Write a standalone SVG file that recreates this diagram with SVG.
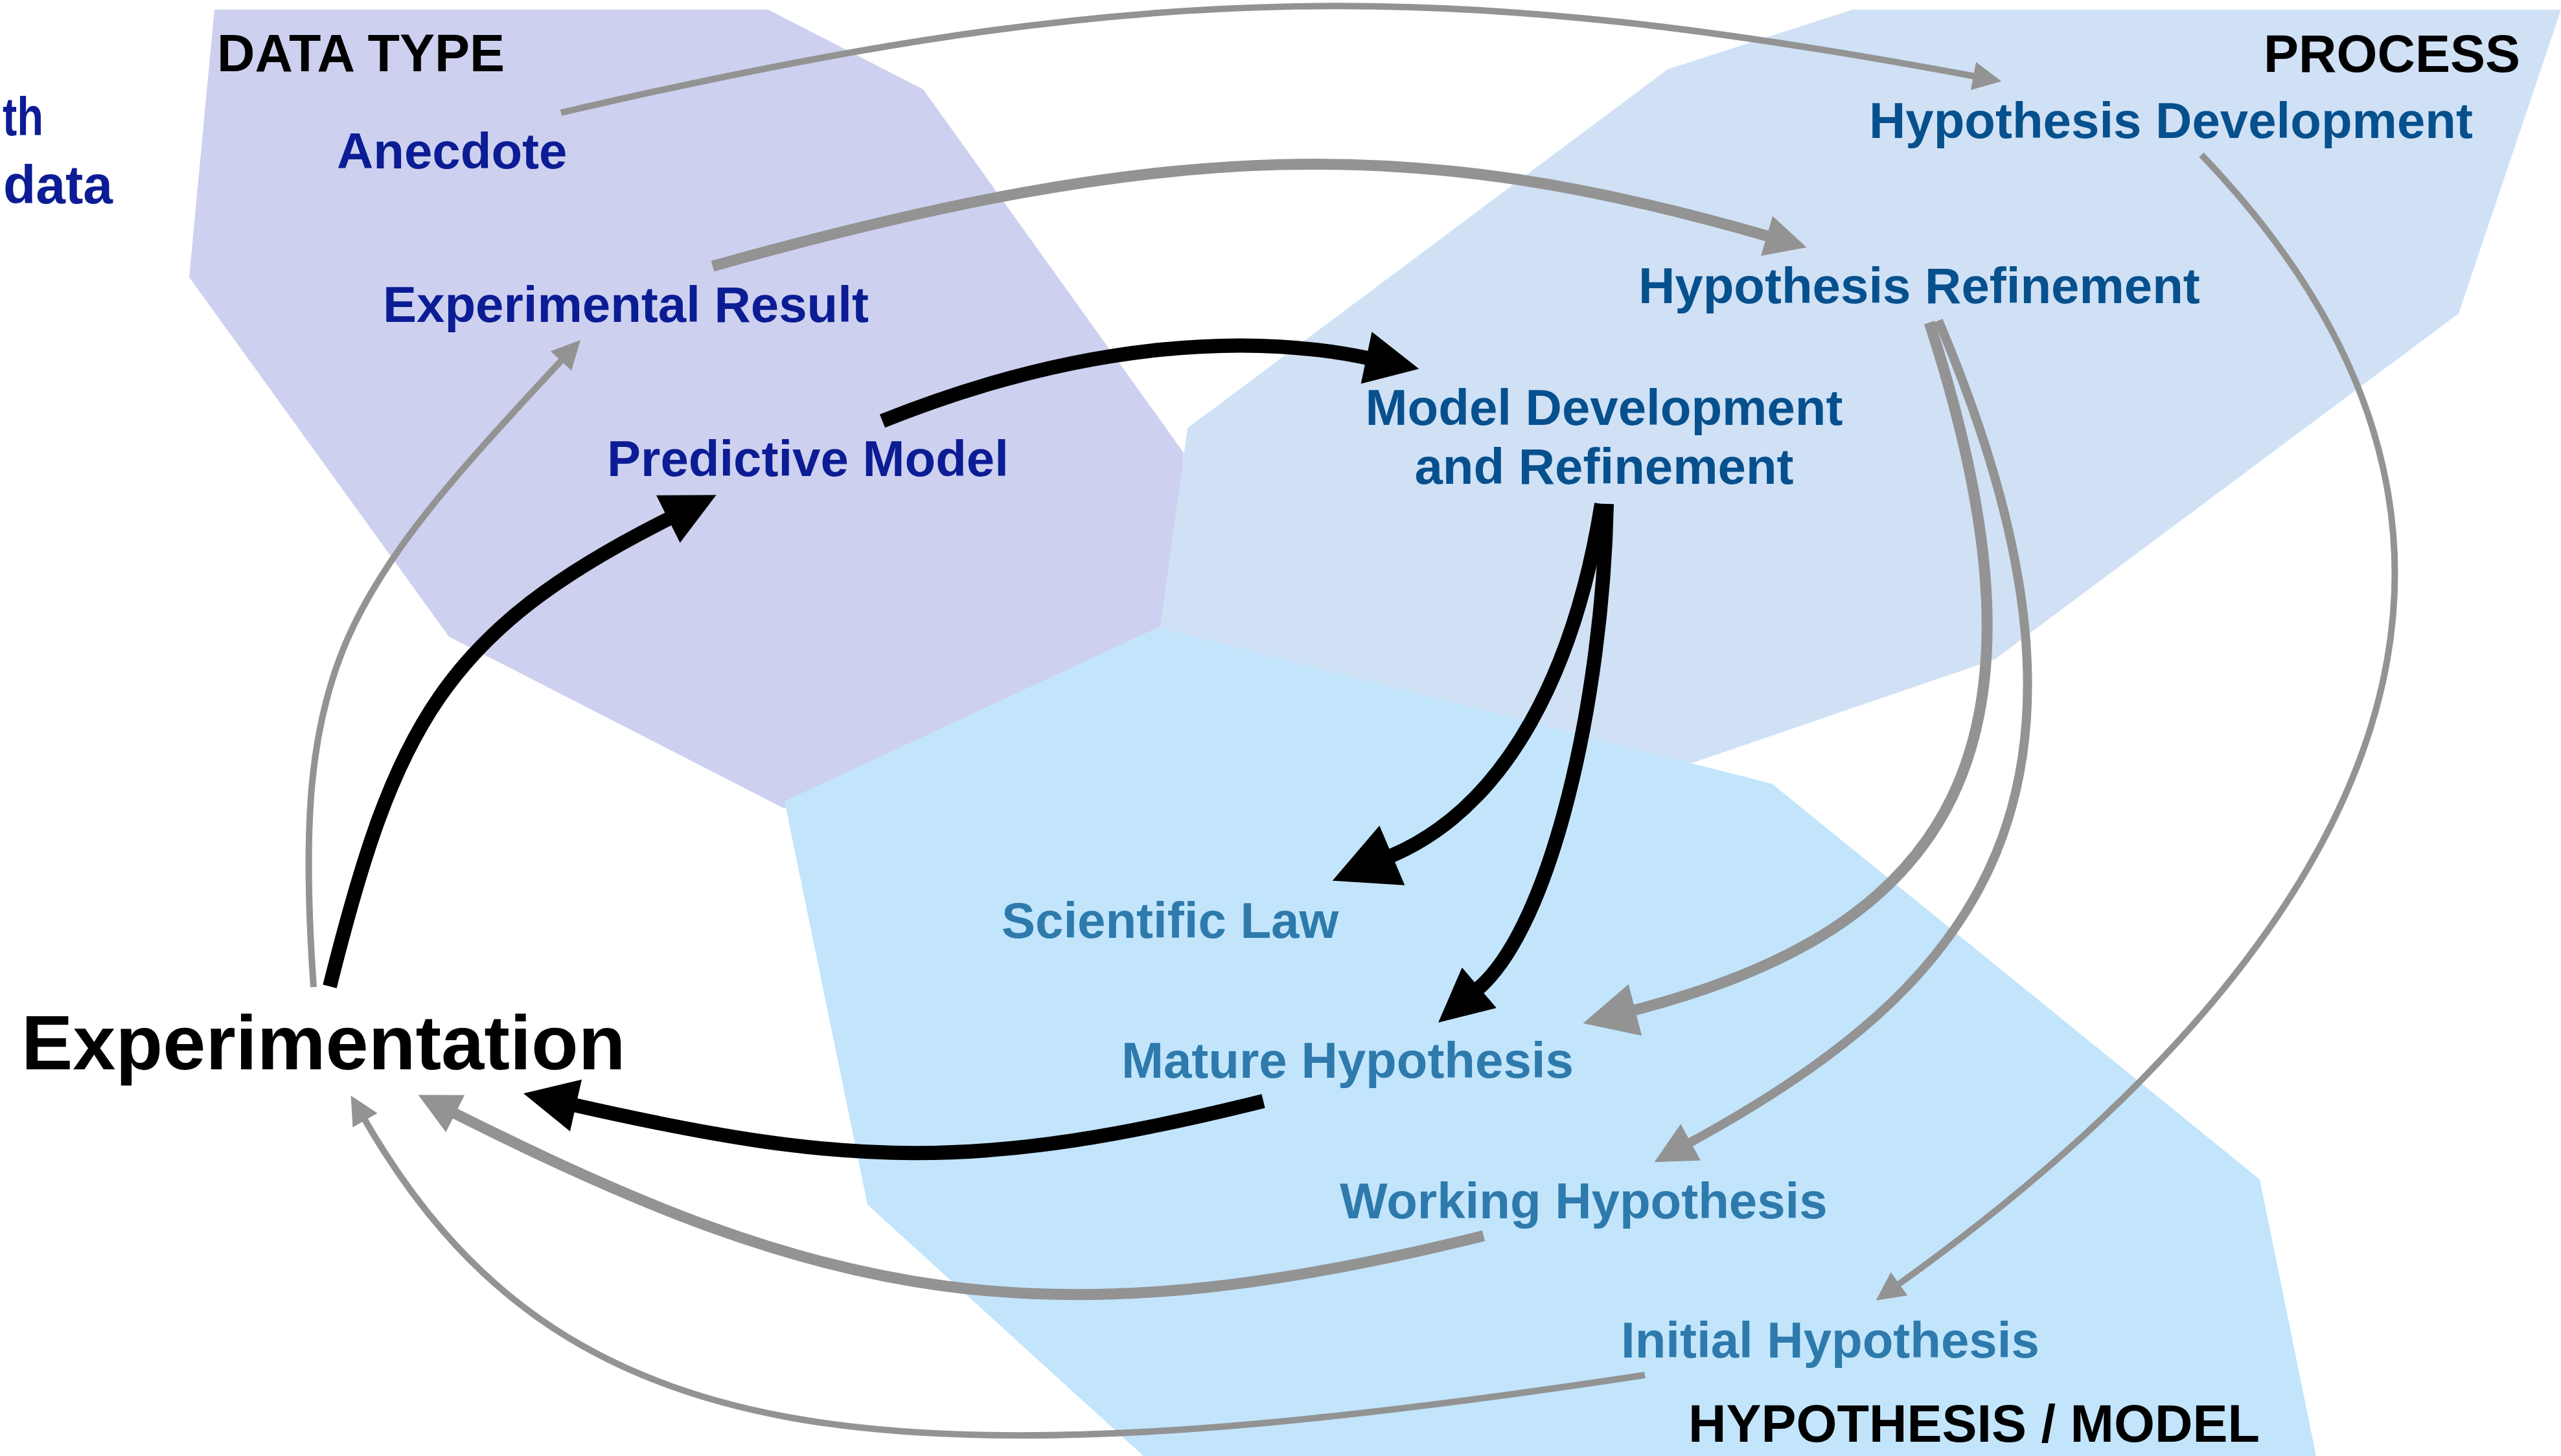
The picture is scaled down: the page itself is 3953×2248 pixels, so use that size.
<svg xmlns="http://www.w3.org/2000/svg" width="3953" height="2248" viewBox="0 0 3953 2248">
<style>
text{font-family:"Liberation Sans",Arial,Helvetica,sans-serif;font-weight:bold}
.lbl{font-size:78px}
.side{font-size:84px}
.data{fill:#0b1c94}
.proc{fill:#07508e}
.hyp{fill:#2e7aac}
.title{font-size:81px;fill:#000}
.exp{font-size:119px;fill:#000}
.c{fill:none;stroke-linecap:butt}
.blk{stroke:#000;stroke-width:22}
.g-lg{stroke:#939393;stroke-width:17}
.g-md{stroke:#939393;stroke-width:14}
.g-sm{stroke:#939393;stroke-width:10}
</style>
<defs>
<marker id="hb" markerUnits="userSpaceOnUse" orient="auto" refX="3" refY="0" markerWidth="120" markerHeight="120" viewBox="0 -60 120 120" overflow="visible"><path d="M0,-41 L83,0 L0,41 Z" fill="#000"/></marker>
<marker id="hbl" markerUnits="userSpaceOnUse" orient="auto" refX="3" refY="0" markerWidth="120" markerHeight="120" viewBox="0 -60 120 120" overflow="visible"><path d="M0,-50 L100,0 L0,50 Z" fill="#000"/></marker>
<marker id="hgl" markerUnits="userSpaceOnUse" orient="auto" refX="3" refY="0" markerWidth="120" markerHeight="120" viewBox="0 -60 120 120" overflow="visible"><path d="M0,-41 L83,0 L0,41 Z" fill="#939393"/></marker>
<marker id="hgm" markerUnits="userSpaceOnUse" orient="auto" refX="3" refY="0" markerWidth="120" markerHeight="120" viewBox="0 -60 120 120" overflow="visible"><path d="M0,-32 L64,0 L0,32 Z" fill="#939393"/></marker>
<marker id="hgs" markerUnits="userSpaceOnUse" orient="auto" refX="3" refY="0" markerWidth="120" markerHeight="120" viewBox="0 -60 120 120" overflow="visible"><path d="M0,-22 L44,0 L0,22 Z" fill="#939393"/></marker>
</defs>
<rect width="3953" height="2248" fill="#fff"/>
<g id="regions">
<polygon id="region-data-type" points="331,15 1186,15 1425,138 1827,699 1800,1050 1210,1248 693,983 292,428" fill="#cdd1ef"/>
<polygon id="region-process" points="2574,107 2859,15 3953,15 3795,484 3079,1018 2600,1182 1790,975 1833,661" fill="#d0e1f5"/>
<polygon id="region-hypothesis" points="1787,969 2735,1210 3488,1821 3575,2248 1765,2248 1339,1860 1211,1237" fill="#c2e5fc"/>
</g>
<g id="connectors">
<path class="c g-sm" d="M866,174 C1778,-39 2245,-32 3049,118" marker-end="url(#hgs)"/>
<path class="c g-lg" d="M1100,411 C1808,213 2182,206 2730,365" marker-end="url(#hgm)"/>
<path class="c blk" d="M1362,650 C1679,523 1936,516 2112,553" marker-end="url(#hb)"/>
<path class="c blk" d="M509,1523 C609,1123 684,975 1034,800" marker-end="url(#hb)"/>
<path class="c g-sm" d="M484,1524 C449,1024 528,920 868,555" marker-end="url(#hgs)"/>
<path class="c blk" d="M2472,778 C2432,1028 2330,1244 2146,1322" marker-end="url(#hbl)"/>
<path class="c blk" d="M2480,778 C2474,1078 2395,1430 2281,1527" marker-end="url(#hb)"/>
<path class="c blk" d="M1950,1700 C1507,1810 1311,1802 886,1706" marker-end="url(#hb)"/>
<path class="c g-lg" d="M2978,498 C3195,1163 3006,1435 2521,1560" marker-end="url(#hgl)"/>
<path class="c g-md" d="M2992,495 C3304,1231 3047,1525 2607,1765" marker-end="url(#hgm)"/>
<path class="c g-sm" d="M3398,239 C4019,887 3577,1520 2929,1984" marker-end="url(#hgs)"/>
<path class="c g-lg" d="M2290,1908 C1611,2076 1279,2010 700,1718" marker-end="url(#hgm)"/>
<path class="c g-sm" d="M2539,2123 C1351,2303 862,2249 562,1727" marker-end="url(#hgs)"/>
</g>
<g id="titles">
<text class="title" x="335" y="110">DATA TYPE</text>
<text class="title" x="3890" y="111" text-anchor="end">PROCESS</text>
<text class="title" x="2606" y="2226" font-size="83">HYPOTHESIS / MODEL</text>
</g>
<g id="side-note">
<text class="side data" x="4" y="209" textLength="63" lengthAdjust="spacingAndGlyphs">th</text>
<text class="side data" x="5" y="314" textLength="169" lengthAdjust="spacingAndGlyphs">data</text>
</g>
<g id="node-anecdote"><text class="lbl data" x="520" y="260">Anecdote</text></g>
<g id="node-experimental-result"><text class="lbl data" x="591" y="497" font-size="77">Experimental Result</text></g>
<g id="node-predictive-model"><text class="lbl data" x="937" y="735">Predictive Model</text></g>
<g id="node-hypothesis-development"><text class="lbl proc" x="2885" y="213" font-size="77">Hypothesis Development</text></g>
<g id="node-hypothesis-refinement"><text class="lbl proc" x="2529" y="468" font-size="77">Hypothesis Refinement</text></g>
<g id="node-model-development"><text class="lbl proc" x="2476" y="656" text-anchor="middle">Model Development</text><text class="lbl proc" x="2476" y="747" text-anchor="middle">and Refinement</text></g>
<g id="node-scientific-law"><text class="lbl hyp" x="1546" y="1448">Scientific Law</text></g>
<g id="node-mature-hypothesis"><text class="lbl hyp" x="1731" y="1664">Mature Hypothesis</text></g>
<g id="node-working-hypothesis"><text class="lbl hyp" x="2068" y="1881" font-size="77">Working Hypothesis</text></g>
<g id="node-initial-hypothesis"><text class="lbl hyp" x="2502" y="2096" font-size="77">Initial Hypothesis</text></g>
<g id="node-experimentation"><text class="exp" x="33" y="1651">Experimentation</text></g>
</svg>
